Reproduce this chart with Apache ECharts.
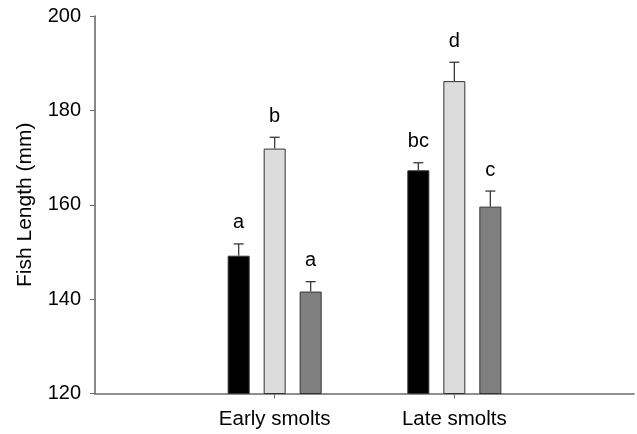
<!DOCTYPE html>
<html>
<head>
<meta charset="utf-8">
<script src="https://cdn.jsdelivr.net/npm/echarts@6/dist/echarts.min.js"></script>
<style>html,body{margin:0;padding:0;background:#fff}#c{width:637px;height:434px}</style>
</head>
<body>
<div id="c"></div>
<script>
var categories = ['', 'Early smolts', 'Late smolts', ''];
var blackValues = [null, 149.2, 167.3, null];
var lightValues = [null, 171.9, 186.2, null];
var darkValues = [null, 141.6, 159.6, null];
var blackErrors = [null, 2.5, 1.6, null];
var lightErrors = [null, 2.4, 4.0, null];
var darkErrors = [null, 2.1, 3.3, null];
var blackLetters = ['', 'a', 'bc', ''];
var lightLetters = ['', 'b', 'd', ''];
var darkLetters = ['', 'a', 'c', ''];
var yTicks = [120, 140, 160, 180, 200];

var FONT = 'Liberation Sans, Arial, sans-serif';
var BAR_W = 22, STEP = 36;

function errSeries(values, errors, letters, offset) {
  var data = [];
  for (var i = 0; i < categories.length; i++) {
    if (values[i] != null) data.push([i, values[i], values[i] + errors[i], letters[i]]);
  }
  return {
    type: 'custom',
    data: data,
    z: 5,
    renderItem: function (params, api) {
      var x = api.value(0);
      var base = api.coord([x, api.value(1)]);
      var top = api.coord([x, api.value(2)]);
      var cx = base[0] + offset;
      var lineStyle = { stroke: '#3a3a3a', lineWidth: 1.3 };
      return {
        type: 'group',
        children: [
          { type: 'line', shape: { x1: cx, y1: base[1], x2: cx, y2: top[1] }, style: lineStyle },
          { type: 'line', shape: { x1: cx - 5, y1: top[1], x2: cx + 5, y2: top[1] }, style: lineStyle },
          { type: 'text', style: { x: cx, y: top[1] - 11, text: api.value(3), fill: '#000',
              font: '20px ' + FONT, textAlign: 'center', textVerticalAlign: 'bottom' } }
        ]
      };
    }
  };
}

function barSeries(values, color) {
  return {
    type: 'bar', data: values, barWidth: BAR_W, barGap: ((STEP - BAR_W) / BAR_W * 100) + '%',
    itemStyle: { color: color, borderColor: '#333', borderWidth: 1 }
  };
}

var chart = echarts.init(document.getElementById('c'));
chart.setOption({
  animation: false,
  grid: { left: 95, right: 3, top: 16, bottom: 40.5 },
  xAxis: {
    type: 'category', data: categories, boundaryGap: false,
    axisLine: { lineStyle: { color: '#6a6a6a', width: 1.6 } },
    axisTick: { length: 5, interval: function (i) { return i === 1 || i === 2; }, lineStyle: { color: '#6a6a6a' } },
    axisLabel: { margin: 15, color: '#000', fontSize: 20.5, fontFamily: FONT,
      interval: function (i) { return i === 1 || i === 2; } },
    splitLine: { show: false }
  },
  yAxis: {
    type: 'value', min: yTicks[0], max: yTicks[yTicks.length - 1], interval: 20,
    name: 'Fish Length (mm)', nameLocation: 'middle', nameGap: 59,
    nameTextStyle: { color: '#000', fontSize: 21, fontFamily: FONT },
    axisLine: { show: true, lineStyle: { color: '#6a6a6a', width: 1.6 } },
    axisTick: { show: true, length: 5, lineStyle: { color: '#6a6a6a' } },
    axisLabel: { margin: 14, color: '#000', fontSize: 20, fontFamily: FONT },
    splitLine: { show: false }
  },
  series: [
    barSeries(blackValues, '#000000'),
    barSeries(lightValues, '#dcdcdc'),
    barSeries(darkValues, '#808080'),
    errSeries(blackValues, blackErrors, blackLetters, -STEP),
    errSeries(lightValues, lightErrors, lightLetters, 0),
    errSeries(darkValues, darkErrors, darkLetters, STEP)
  ]
});
</script>
</body>
</html>
